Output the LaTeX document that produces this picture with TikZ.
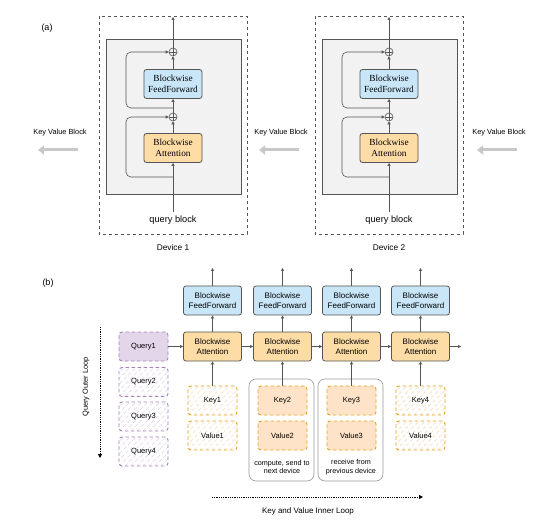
\documentclass[tikz,border=0pt]{standalone}
\usepackage{fontspec}
\setmainfont{Liberation Sans}
\newfontfamily\boxserif{Liberation Serif}
\usetikzlibrary{positioning,arrows.meta}

\definecolor{linegray}{HTML}{555555}
\definecolor{panelgray}{HTML}{F2F2F2}
\definecolor{ffblue}{HTML}{C9E6F8}
\definecolor{attorange}{HTML}{FDDCA6}
\definecolor{kvorange}{HTML}{FFE3C8}
\definecolor{kvborder}{HTML}{E6A21E}
\definecolor{kvhatchline}{HTML}{F9DDC2}
\definecolor{qfill}{HTML}{E3D5EA}
\definecolor{qborder}{HTML}{A682B9}
\definecolor{qhatchline}{HTML}{E0D2E8}
\definecolor{kvarrow}{HTML}{C8C8C8}

\tikzset{
  conn/.style={draw=linegray, line width=0.6pt, -{Triangle[length=3pt,width=3pt]}},
  device/.style={draw=linegray, dashed, line width=0.6pt},
  panel/.style={draw=linegray, fill=panelgray, line width=0.7pt},
  blockbox/.style={draw=linegray, rounded corners=2.5pt, line width=0.8pt, align=center,
    minimum width=58pt, minimum height=29pt, inner sep=1pt},
  ffbox/.style={blockbox, fill=ffblue},
  attbox/.style={blockbox, fill=attorange},
  plusnode/.style={circle, draw=linegray, line width=0.6pt, fill=panelgray,
    minimum size=8pt, inner sep=0pt,
    path picture={\draw[linegray, line width=0.5pt]
      (path picture bounding box.north) -- (path picture bounding box.south)
      (path picture bounding box.west) -- (path picture bounding box.east);}},
  kvflow/.style={draw=kvarrow, line width=3pt, -{Triangle[length=6pt,width=9pt]}},
  dashbox/.style={rounded corners=3pt, dash pattern=on 3.5pt off 2.5pt, line width=0.9pt,
    minimum width=49pt, minimum height=29pt, font=\fontsize{7.5}{9}\selectfont},
  hatch/.style={fill=white, path picture={
    \foreach \t in {-42,-36,...,54}
      \draw[#1, line width=0.7pt] ([xshift=\t pt]path picture bounding box.south west) -- ++(45:60pt);}},
  qsolid/.style={dashbox, draw=qborder, fill=qfill},
  qhatch/.style={dashbox, draw=qborder, hatch=qhatchline},
  kvsolid/.style={dashbox, draw=kvborder, fill=kvorange},
  kvhatch/.style={dashbox, draw=kvborder, hatch=kvhatchline},
  group/.style={draw=linegray!60, rounded corners=7pt, line width=0.6pt, fill=white,
    minimum width=65pt, minimum height=102pt},
  loopline/.style={draw=black, densely dotted, line width=0.8pt, -{Triangle[length=4pt,width=4pt]}},
  small/.style={font=\fontsize{7.4}{9}\selectfont}
}

\begin{document}
\begin{tikzpicture}[x=1pt,y=-1pt]
\useasboundingbox (0,0) rectangle (554,521);

% ---- (a) ----
\node (tagA) at (47,28) {\fontsize{9}{11}\selectfont (a)};

\foreach \d/\cx in {1/173,2/389} {
  \draw[device] (\cx-74,16) rectangle (\cx+74,234);
  \draw[panel] (\cx-67,39) rectangle (\cx+68,194);
  \node[ffbox, font=\boxserif\fontsize{9.3}{11}\selectfont] (ff\d) at (\cx,84) {Blockwise\\FeedForward};
  \node[attbox, font=\boxserif\fontsize{9.3}{11}\selectfont] (att\d) at (\cx,148) {Blockwise\\Attention};
  \node[plusnode] (ptop\d) at (\cx,52) {};
  \node[plusnode] (plow\d) at (\cx,117) {};
  \node[font=\fontsize{9.2}{11}\selectfont] (qblock\d) at (\cx,220) {query block};
  \node[font=\fontsize{8.3}{10}\selectfont] (dev\d) at (\cx,248) {Device \d};
  \coordinate (out\d) at (\cx,17);
  \coordinate (resA\d) at (\cx,177);
  \coordinate (resB\d) at (\cx,108);
  \draw[conn] (qblock\d.north) -- (att\d);
  \draw[conn] (att\d) -- (plow\d);
  \draw[conn] (plow\d) -- (ff\d);
  \draw[conn] (ff\d) -- (ptop\d);
  \draw[conn] (ptop\d) -- (out\d);
  \draw[conn, rounded corners=5pt] (resA\d) -- ++(-47,0) |- (plow\d);
  \draw[conn, rounded corners=5pt] (resB\d) -- ++(-47,0) |- (ptop\d);
}

% key value blocks passed between devices
\foreach \k/\cx in {1/60,2/281,3/499} {
  \node[small] (kvlabel\k) at (\cx,133) {Key Value Block};
  \coordinate (kvs\k) at (\cx+18,150);
  \coordinate (kve\k) at (\cx-22,150);
  \draw[kvflow] (kvs\k) -- (kve\k);
}

% ---- (b) ----
\node (tagB) at (48,283) {\fontsize{9}{11}\selectfont (b)};

% groups behind the key/value pairs 2 and 3
\node[group] (grp2) at (281.5,430) {};
\node[group] (grp3) at (350.5,430) {};
\node[font=\fontsize{7.2}{8.6}\selectfont, align=center] (note2) at (282,467) {compute, send to\\next device};
\node[font=\fontsize{7.2}{8.6}\selectfont, align=center] (note3) at (351,467) {receive from\\previous device};

\foreach \i/\cx/\ks in {1/212.5/kvhatch,2/282.5/kvsolid,3/351.5/kvsolid,4/420.5/kvhatch} {
  \node[ffbox, font=\fontsize{8}{9.6}\selectfont] (bff\i) at (\cx,300.5) {Blockwise\\FeedForward};
  \node[attbox, font=\fontsize{8}{9.6}\selectfont] (batt\i) at (\cx,346.5) {Blockwise\\Attention};
  \node[\ks] (key\i) at (\cx,400.5) {Key\i};
  \node[\ks] (val\i) at (\cx,435.5) {Value\i};
  \coordinate (bout\i) at (\cx,268);
  \draw[conn] (batt\i) -- (bff\i);
  \draw[conn] (bff\i) -- (bout\i);
  \draw[conn] (key\i) -- (batt\i);
}
\coordinate (battend) at (461,346.5);
\draw[conn] (batt1) -- (batt2);
\draw[conn] (batt2) -- (batt3);
\draw[conn] (batt3) -- (batt4);
\draw[conn] (batt4) -- (battend);

% query blocks
\node[qsolid] (q1) at (143.5,346.5) {Query1};
\node[qhatch] (q2) at (143.5,382) {Query2};
\node[qhatch] (q3) at (143.5,416.5) {Query3};
\node[qhatch] (q4) at (143.5,451.5) {Query4};
\draw[conn] (q1) -- (batt1);

% loops
\coordinate (outerS) at (100,327);
\coordinate (outerE) at (100,458);
\draw[loopline] (outerS) -- (outerE);
\node[small, rotate=90] (outerlabel) at (86,387) {Query Outer Loop};
\coordinate (innerS) at (212,497);
\coordinate (innerE) at (423,497);
\draw[loopline] (innerS) -- (innerE);
\node[font=\fontsize{8}{10}\selectfont] (innerlabel) at (308,511) {Key and Value Inner Loop};
\end{tikzpicture}
\end{document}
